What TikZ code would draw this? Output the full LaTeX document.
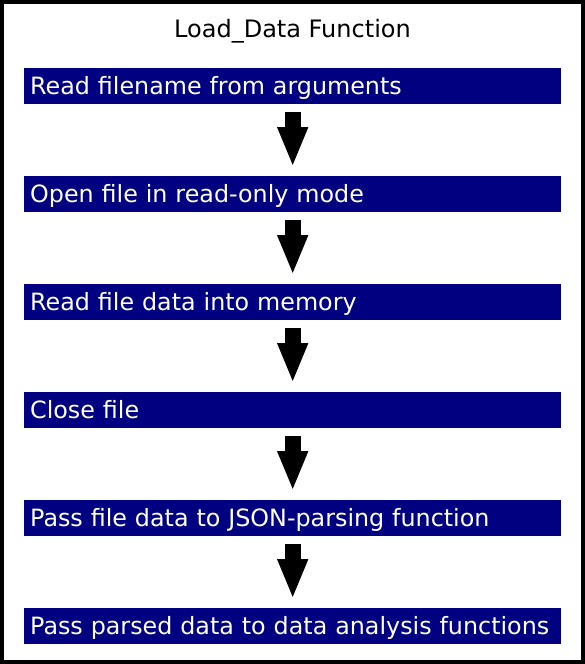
\documentclass[tikz,border=0pt]{standalone}
\usepackage{fontspec}
\setmainfont{DejaVu Sans}
\usetikzlibrary{positioning,arrows.meta}
\definecolor{navybar}{HTML}{000080}

\begin{document}
\begin{tikzpicture}[x=1pt,y=-1pt,node distance=71.6pt]
  \tikzstyle{bar}=[fill=navybar,text=white,font=\fontsize{23.8}{26}\selectfont,minimum height=36pt,text width=525pt,text height=17.4pt,text depth=0pt,inner xsep=6pt,inner ysep=0pt,align=left,anchor=north west]
  \tikzstyle{downarrow}=[line width=16pt,-{Triangle[width=28pt,length=40pt]}]
  \useasboundingbox (0,0) rectangle (585,664);
  \draw[line width=4pt] (2,2) rectangle (583,662);
  \node[font=\fontsize{24}{26}\selectfont] (title) at (292.5,31) {Load\_Data Function};
  \node[bar] (read) at (24,68) {Read filename from arguments};
  \node[bar,below=of read.south west,anchor=north west] (open) {Open file in read-only mode};
  \node[bar,below=of open.south west,anchor=north west] (load) {Read file data into memory};
  \node[bar,below=of load.south west,anchor=north west] (close) {Close file};
  \node[bar,below=of close.south west,anchor=north west] (json) {Pass file data to JSON-parsing function};
  \node[bar,below=of json.south west,anchor=north west] (pass) {Pass parsed data to data analysis functions};
  \draw[downarrow] ([yshift=-8pt]read.south) -- ([yshift=9pt]open.north);
  \draw[downarrow] ([yshift=-8pt]open.south) -- ([yshift=9pt]load.north);
  \draw[downarrow] ([yshift=-8pt]load.south) -- ([yshift=9pt]close.north);
  \draw[downarrow] ([yshift=-8pt]close.south) -- ([yshift=9pt]json.north);
  \draw[downarrow] ([yshift=-8pt]json.south) -- ([yshift=9pt]pass.north);
\end{tikzpicture}
\end{document}
